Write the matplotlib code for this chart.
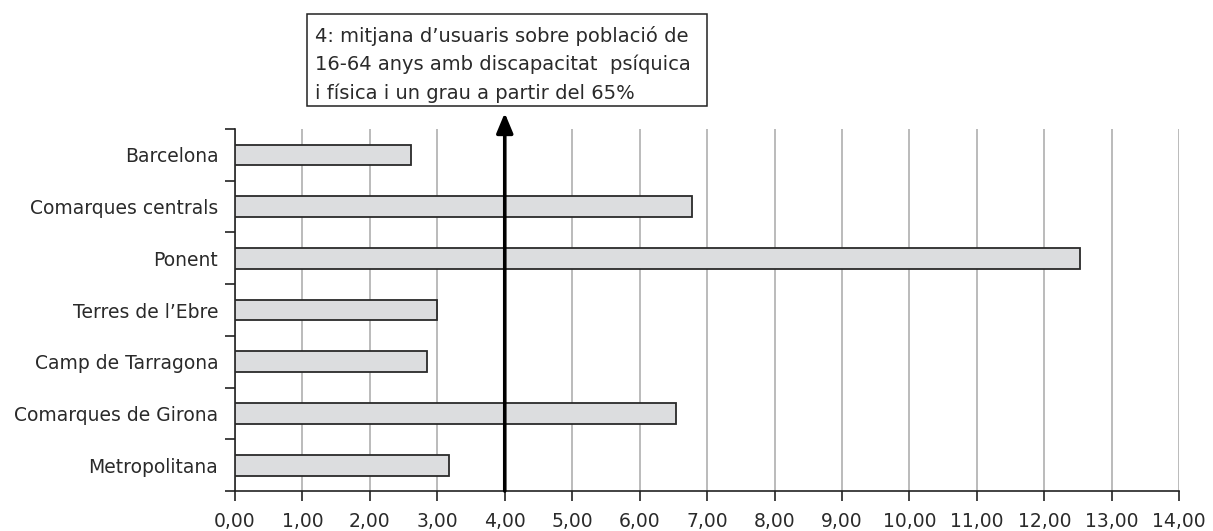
import matplotlib
matplotlib.use('Agg')
import matplotlib.pyplot as plt
from matplotlib.patches import Rectangle
from matplotlib.ticker import FuncFormatter

regions = ['Barcelona', 'Comarques centrals', 'Ponent', "Terres de l\u2019Ebre",
           'Camp de Tarragona', 'Comarques de Girona', 'Metropolitana']
values = [2.61, 6.78, 12.53, 3.00, 2.85, 6.54, 3.18]
mitjana = 4.0
nota = ["4: mitjana d\u2019usuaris sobre població de",
        "16-64 anys amb discapacitat  psíquica",
        "i física i un grau a partir del 65%"]

plt.rcParams['font.family'] = ['DejaVu Sans']

fig = plt.figure(figsize=(12.13, 5.31), dpi=100)
ax = fig.add_axes([0.1937, 0.0753, 0.7785, 0.6817])

n = len(regions)
ypos = [n - 1 - i for i in range(n)]
ax.barh(ypos, values, height=0.4, color='#dcdddf', edgecolor='#2a2a2a',
        linewidth=1.3, zorder=3)

ax.set_xlim(0, 14)
ax.set_ylim(-0.5, n - 0.5)
ax.set_xticks(range(15))
ax.xaxis.set_major_formatter(FuncFormatter(lambda v, p: ('%.2f' % v).replace('.', ',')))
ax.set_yticks([y - 0.5 for y in range(n + 1)])
ax.set_yticklabels([])
ax.set_yticks(ypos, minor=True)
ax.set_yticklabels(regions, minor=True)
ax.tick_params(axis='y', which='minor', length=0, pad=12, labelsize=13.5, colors='#2a2a2a')
ax.tick_params(axis='y', which='major', length=7, width=1.2, color='#222222')
ax.tick_params(axis='x', length=7, width=1.2, color='#222222', labelsize=13.5,
               labelcolor='#2a2a2a', pad=8)

ax.grid(axis='x', color='#a8a8a8', linewidth=1.1, zorder=0)
for s in ['top', 'right']:
    ax.spines[s].set_visible(False)
for s in ['left', 'bottom']:
    ax.spines[s].set_linewidth(1.2)
    ax.spines[s].set_color('#222222')

# average line with arrow up to the note
ax.annotate('', xy=(mitjana, n - 0.5 + 0.31), xytext=(mitjana, -0.5),
            arrowprops=dict(arrowstyle='-|>,head_length=1.2,head_width=0.5',
                            color='black', lw=2.6, shrinkA=0, shrinkB=0),
            annotation_clip=False, zorder=5)

fig.patches.append(Rectangle((307 / 1213, 1 - 106 / 531), 400 / 1213, 92 / 531,
                             transform=fig.transFigure, fill=False,
                             edgecolor='#222222', linewidth=1.1))
for i, line in enumerate(nota):
    fig.text(315 / 1213, 1 - (42 + i * 28.5) / 531, line, fontsize=14,
             color='#2a2a2a', va='baseline', ha='left')

fig.savefig('out.png', dpi=100)
